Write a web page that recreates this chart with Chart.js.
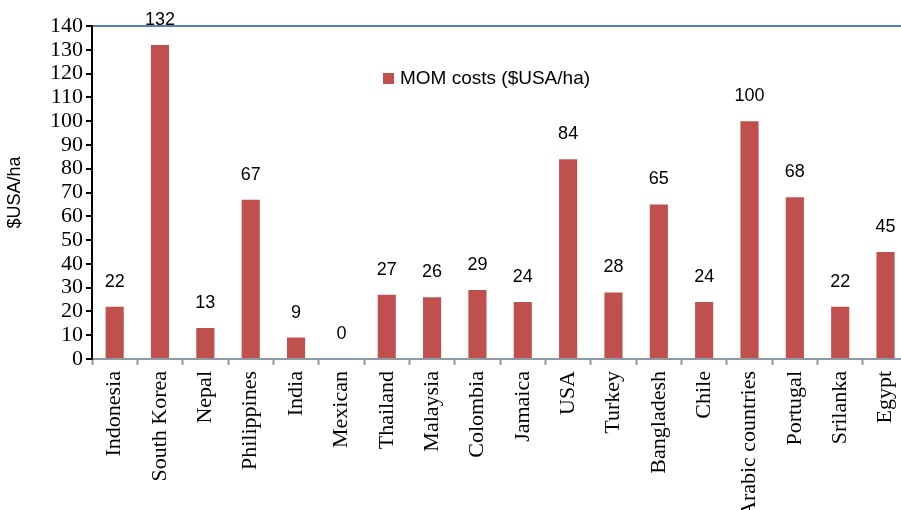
<!DOCTYPE html>
<html>
<head>
<meta charset="utf-8">
<script src="https://cdn.jsdelivr.net/npm/chart.js@4/dist/chart.umd.min.js"></script>
<style>
  html, body { margin: 0; padding: 0; background: #fff; overflow: hidden; }
  canvas { display: block; }
</style>
</head>
<body>
<canvas id="mom-chart" width="918" height="510"></canvas>
<script>
// --- DATA ---
const countries = ['Indonesia', 'South Korea', 'Nepal', 'Philippines', 'India', 'Mexican', 'Thailand',
    'Malaysia', 'Colombia', 'Jamaica', 'USA', 'Turkey', 'Bangladesh', 'Chile', 'Arabic countries',
    'Portugal', 'Srilanka', 'Egypt'];
const momCosts = [22, 132, 13, 67, 9, 0, 27, 26, 29, 24, 84, 28, 65, 24, 100, 68, 22, 45];
const seriesName = 'MOM costs ($USA/ha)';
const axisTitle = '$USA/ha';

const barColor = '#c0504d';
const serif = '"Liberation Serif", "Times New Roman", serif';
const sans = '"Liberation Sans", Arial, sans-serif';

// --- VALUE LABELS + LEGEND (drawn inside the plot) ---
const labelsPlugin = {
    id: 'barLabels',
    afterDatasetsDraw(chart) {
        const ctx = chart.ctx;
        const meta = chart.getDatasetMeta(0);
        ctx.save();
        ctx.fillStyle = '#000';
        ctx.font = '18px ' + sans;
        ctx.textAlign = 'center';
        ctx.textBaseline = 'middle';
        meta.data.forEach((bar, i) => {
            ctx.fillText(String(momCosts[i]), bar.x, bar.y - 25);
        });

        // legend
        ctx.fillStyle = barColor;
        ctx.fillRect(383, 73, 11, 11);
        ctx.fillStyle = '#000';
        ctx.textAlign = 'left';
        ctx.font = '19px ' + sans;
        ctx.fillText(chart.data.datasets[0].label, 400, 79);
        ctx.restore();
    }
};

new Chart(document.getElementById('mom-chart'), {
    type: 'bar',
    data: {
        labels: countries,
        datasets: [{
            label: seriesName,
            data: momCosts,
            backgroundColor: barColor,
            borderColor: barColor,
            barPercentage: 0.4,
            categoryPercentage: 1.0
        }]
    },
    options: {
        responsive: false,
        animation: false,
        layout: { padding: { top: 26, right: 2, left: 0, bottom: 0 } },
        plugins: {
            legend: { display: false },
            tooltip: { enabled: false }
        },
        scales: {
            x: {
                afterFit: s => { s.height = 151; },
                border: { color: '#8d99a3', width: 2 },
                grid: {
                    offset: true,
                    drawOnChartArea: false,
                    tickLength: 6,
                    tickColor: '#8d99a3',
                    tickWidth: 2
                },
                ticks: {
                    color: '#000',
                    font: { family: serif, size: 22 },
                    minRotation: 90,
                    maxRotation: 90,
                    padding: 6,
                    autoSkip: false
                }
            },
            y: {
                min: 0,
                max: 140,
                afterFit: s => { s.width = 92; },
                border: { color: '#000', width: 2 },
                grid: {
                    color: c => (c.tick && c.tick.value === 140 ? '#4f81bd' : 'rgba(0,0,0,0)'),
                    lineWidth: 2,
                    tickLength: 6,
                    tickColor: '#000',
                    tickWidth: 2
                },
                ticks: {
                    stepSize: 10,
                    autoSkip: false,
                    color: '#000',
                    font: { family: serif, size: 22 },
                    padding: 3
                },
                title: {
                    display: true,
                    text: axisTitle,
                    color: '#000',
                    font: { family: sans, size: 18 },
                    padding: { top: 4, bottom: 0 }
                }
            }
        }
    },
    plugins: [labelsPlugin]
});
</script>
</body>
</html>
